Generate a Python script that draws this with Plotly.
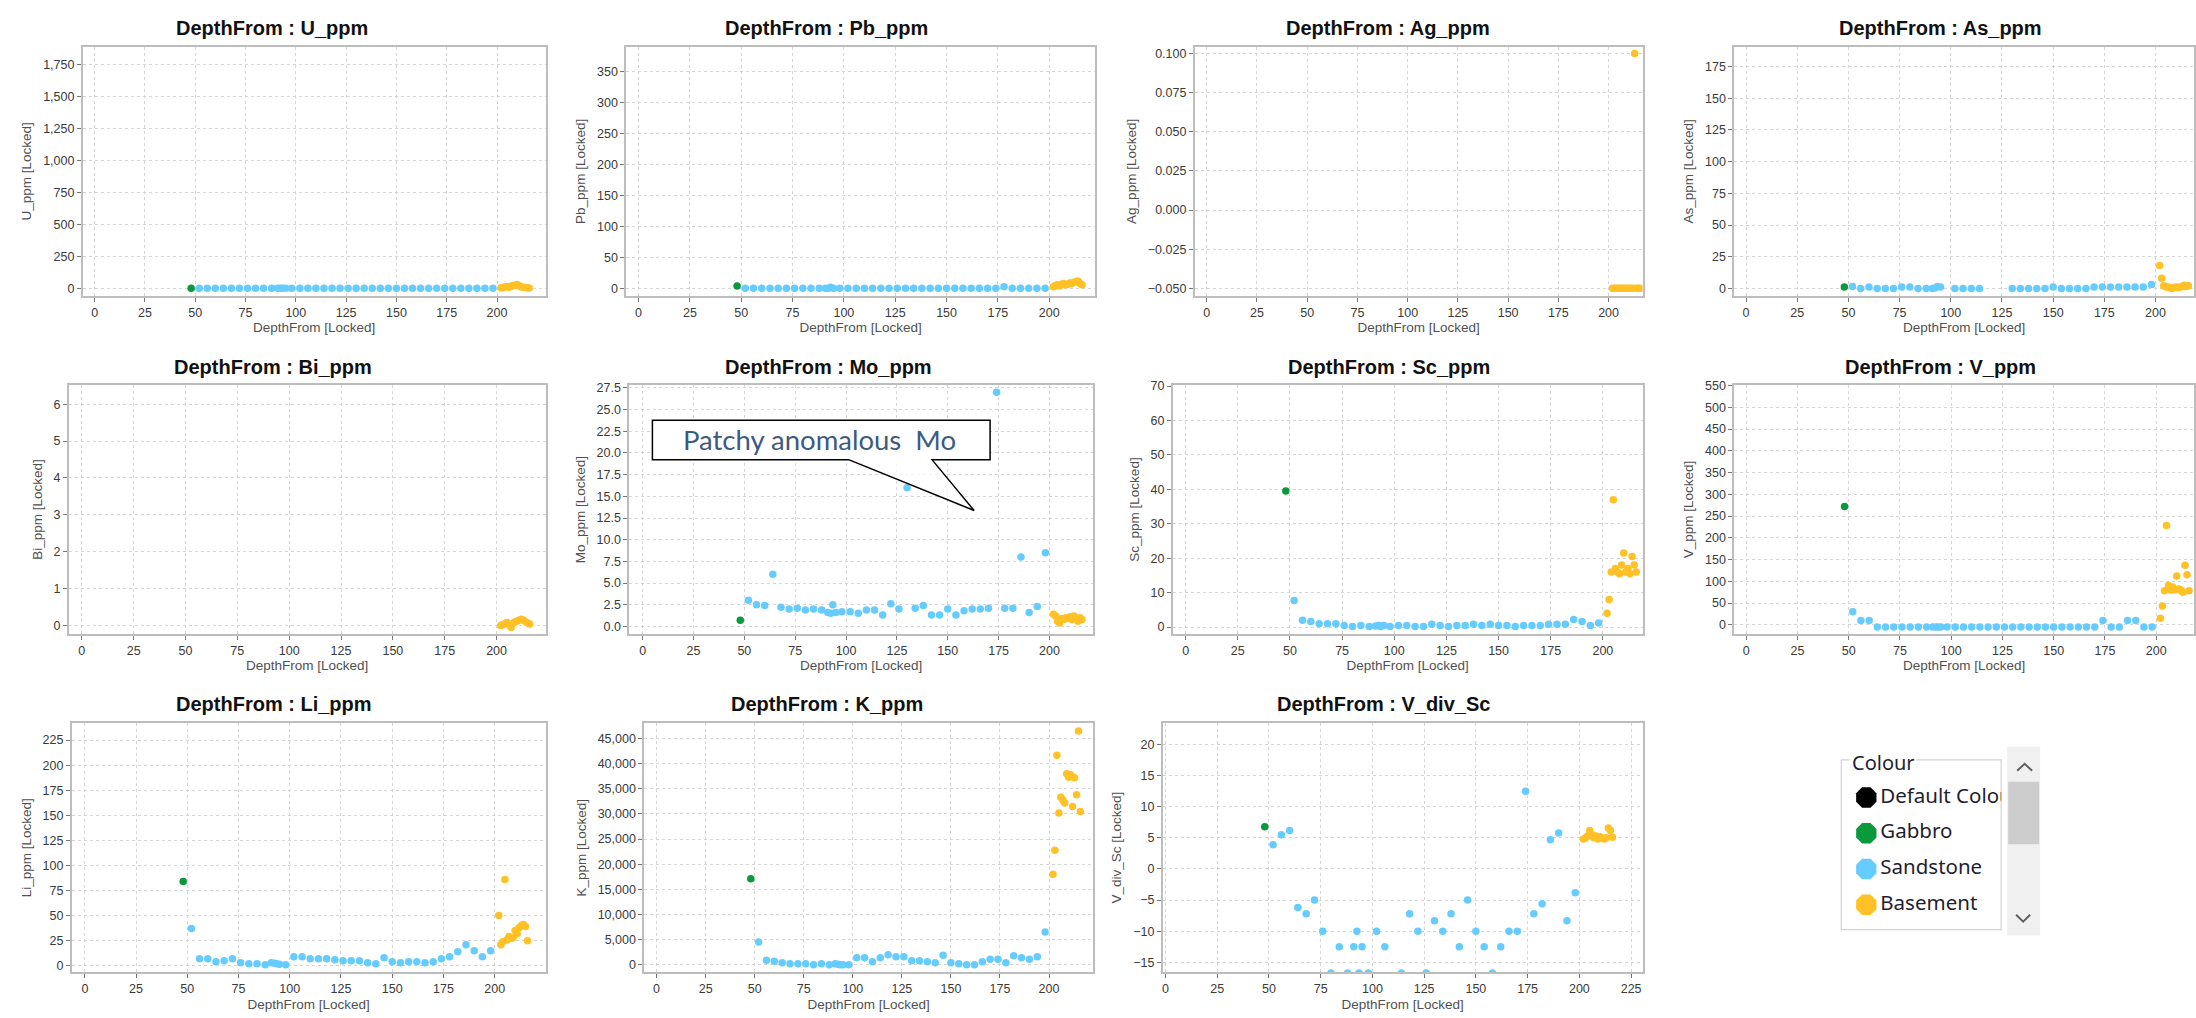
import plotly.graph_objects as go

W, H = 2196, 1018

# ---------------- data ----------------
depth_gabbro = [48]
depth_sandstone = [52, 56, 60, 64, 68, 72, 76, 80, 84, 88, 91, 92.5, 93.5, 95, 98,
                   102, 106, 110, 114, 118, 122, 126, 130, 134, 138, 142, 146, 150,
                   154, 158, 162, 166, 170, 174, 178, 182, 186, 190, 194, 198]
depth_basement = [202, 203, 204, 205, 206, 207, 208, 209, 210, 211, 212, 213, 214, 215, 216]

U_gabbro = [1]
U_sandstone = [2, 1, 2, 1, 1, 2, 1, 1, 2, 1, 2, 1, 2, 1, 1, 2, 1, 1, 2, 1,
               1, 2, 1, 2, 1, 1, 2, 1, 1, 2, 1, 1, 2, 1, 1, 2, 1, 1, 2, 2]
U_basement = [5, 8, 12, 15, 10, 18, 22, 25, 30, 20, 14, 10, 8, 5, 3]

Pb_gabbro = [4]
Pb_sandstone = [0.5, 0.4, 0.5, 0.4, 0.5, 0.4, 0.5, 0.4, 0.5, 0.4, 0.5, 0.6, 2.0, 0.5, 0.4,
                0.5, 0.4, 0.5, 0.4, 0.5, 0.4, 0.5, 0.4, 0.5, 0.4, 0.5, 0.4, 0.5, 0.4, 0.5,
                0.4, 0.5, 0.4, 0.5, 3.0, 0.4, 0.5, 0.4, 0.5, 0.4]
Pb_basement = [3, 5, 6, 4, 7, 8, 6, 7, 9, 8, 10, 11, 12, 8, 6]

Ag_basement = [-0.05, -0.05, -0.05, -0.05, -0.05, -0.05, -0.05, -0.05, -0.05, -0.05,
               -0.05, 0.1, -0.05, -0.05, -0.05]

As_gabbro = [1]
As_sandstone = [1.5, 0, 1, 0, 0, 0, 1, 1, 0, 0, 0, 0.5, 1.5, 1, None,
                0, 0, 0, 0, None, None, None, 0, 0, 0, 0, 0, 1, 0, 0,
                0, 0, 1, 1, 1, 1, 1, 1, 1, 3]
As_basement = [18, 8, 2, 1, 1, 0.5, 0, 0.5, 1, 0.5, 1, 1.5, 2.5, 1.5, 2]

Bi_basement = [0.0, 0.02, 0.05, 0.08, 0.03, -0.05, 0.06, 0.1, 0.12, 0.15, 0.17, 0.14, 0.1, 0.07, 0.04]

Mo_gabbro = [0.7]
Mo_sandstone = [3.0, 2.5, 2.4, 6.0, 2.2, 2.0, 2.1, 1.9, 2.0, 1.9, 1.6, 1.5, 2.5, 1.6, 1.7,
                1.7, 1.5, 1.9, 1.9, 1.3, 2.6, 2.0, 16.0, 2.1, 2.4, 1.3, 1.3, 2.0, 1.3, 1.8,
                2.0, 2.0, 2.1, 27.0, 2.1, 2.1, 8.0, 1.6, 2.3, 8.5]
Mo_basement = [1.4, 1.2, 0.6, 0.4, 0.9, 0.8, 1.0, 0.9, 1.1, 0.8, 1.2, 0.9, 0.6, 1.0, 0.8]

Sc_gabbro = [39.5]
Sc_sandstone = [7.7, 2.0, 1.6, 1.0, 1.0, 1.0, 0.5, 0.2, 0.5, 0.2, 0.3, 0.5, 0.2, 0.5, 0.2,
                0.5, 0.5, 0.2, 0.2, 0.8, 0.5, 0.2, 0.5, 0.5, 0.8, 0.5, 0.8, 0.5, 0.5, 0.2,
                0.5, 0.5, 0.5, 0.8, 0.8, 0.8, 2.2, 1.6, 0.5, 1.2]
Sc_basement = [4, 8, 16, 37, 17, 16, 15.5, 18, 21.5, 16, 17, 15.5, 20.5, 18, 16]

V_gabbro = [272]
V_sandstone = [30, 10, 10, -5, -5, -5, -5, -5, -5, -5, -5, -5, -5, -5, -5,
               -5, -5, -5, -5, -5, -5, -5, -5, -5, -5, -5, -5, -5, -5, -5,
               -5, -5, -5, 10, -5, -5, 10, 10, -5, -5]
V_basement = [15, 43, 78, 228, 90, 80, 87, 80, 112, 82, 80, 75, 137, 115, 78]

Li_gabbro = [84]
Li_sandstone = [37, 7, 7, 4, 5, 7, 3, 2, 2, 1, 3, 2.5, 2, 1.5, 1,
                9, 9, 7, 7, 7, 6, 5, 5, 5, 3, 2, 8, 4, 3, 4,
                4, 3, 4, 7, 9, 14, 21, 15, 9, 15]
Li_basement = [50, 21, 24, 86, 26, 29, 27, 28, 35, 32, 38, 40, 41, 39, 25]

K_gabbro = [17100]
K_sandstone = [4500, 900, 700, 400, 200, 200, 200, 0, 200, 0, 200, 100, 0, 0, 0,
               1400, 1400, 600, 1400, 2000, 1600, 1600, 800, 800, 600, 400, 1900, 400, 200, 0,
               0, 600, 1100, 1100, 400, 1800, 1400, 1100, 1600, 6500]
K_basement = [18000, 22800, 41700, 30200, 33300, 32800, 32200, 38000, 37300, 37800,
              31500, 37200, 33800, 46500, 30500]

VdivSc_gabbro = [6.8]
VdivSc_sandstone = [3.9, 5.5, 6.2, -6.2, -7.2, -5.0, -10.0, -16.7, -12.5, -16.7,
                    -12.5, -10.0, -16.7, -12.5, -16.7, -10.0, -12.5, -25.0, -16.7, -7.2,
                    -10.0, -16.7, -8.3, -10.0, -7.2, -12.5, -5.0, -10.0, -12.5, -16.7,
                    -12.5, -10.0, -10.0, 12.5, -7.2, -5.6, 4.7, 5.8, -8.3, -3.8]
VdivSc_basement = [4.8, 5.0, 5.3, 6.2, 5.5, 5.0, 5.3, 4.8, 5.2, 5.0, 4.8, 5.0, 6.6, 6.2, 5.1]

legend_labels = ["Default Colour", "Gabbro", "Sandstone", "Basement"]

# ---------------- styling ----------------
C_GAB = "#0a9a3c"
C_SAN = "#66ccff"
C_BAS = "#ffc125"
legend_colours = ["#000000", C_GAB, C_SAN, C_BAS]

FONT = "Liberation Sans, Arial, sans-serif"

panels = [
    dict(name="U_ppm", g=U_gabbro, s=U_sandstone, b=U_basement,
         box=(82, 41, 545, 292), xr=(-5.8, 224.1), yr=(-59, 1887), dt=250, fmt=",", tx=271),
    dict(name="Pb_ppm", g=Pb_gabbro, s=Pb_sandstone, b=Pb_basement,
         box=(626, 41, 1095, 292), xr=(-5.9, 222.3), yr=(-12, 390), dt=50, fmt="", tx=826),
    dict(name="Ag_ppm", g=None, s=None, b=Ag_basement,
         box=(1195, 41, 1643, 292), xr=(-5.9, 216.9), yr=(-0.0549, 0.1044), dt=0.025, fmt=".3f", tx=1388),
    dict(name="As_ppm", g=As_gabbro, s=As_sandstone, b=As_basement,
         box=(1735, 41, 2195, 292), xr=(-5.7, 218.8), yr=(-6, 190.7), dt=25, fmt="", tx=1941),
    dict(name="Bi_ppm", g=None, s=None, b=Bi_basement,
         box=(68, 382, 545, 632), xr=(-6.2, 223.6), yr=(-0.22, 6.51), dt=1, fmt="", tx=272),
    dict(name="Mo_ppm", g=Mo_gabbro, s=Mo_sandstone, b=Mo_basement,
         box=(629, 382, 1093, 632), xr=(-6.5, 221.4), yr=(-0.84, 27.8), dt=2.5, fmt=".1f", tx=828),
    dict(name="Sc_ppm", g=Sc_gabbro, s=Sc_sandstone, b=Sc_basement,
         box=(1173, 382, 1643, 632), xr=(-6.1, 219.0), yr=(-1.9, 70.2), dt=10, fmt="", tx=1389),
    dict(name="V_ppm", g=V_gabbro, s=V_sandstone, b=V_basement,
         box=(1735, 382, 2195, 632), xr=(-5.7, 218.4), yr=(-20.5, 550.5), dt=50, fmt="", tx=1941),
    dict(name="Li_ppm", g=Li_gabbro, s=Li_sandstone, b=Li_basement,
         box=(71, 722, 545, 973), xr=(-6.3, 224.8), yr=(-6.6, 242), dt=25, fmt="", tx=273),
    dict(name="K_ppm", g=K_gabbro, s=K_sandstone, b=K_basement,
         box=(644, 722, 1093, 973), xr=(-6.2, 222.4), yr=(-1511, 48090), dt=5000, fmt=",", tx=827),
    dict(name="V_div_Sc", g=VdivSc_gabbro, s=VdivSc_sandstone, b=VdivSc_basement,
         box=(1163, 722, 1643, 973), xr=(-1.2, 230.5), yr=(-16.6, 23.45), dt=5, fmt="", tx=1384),
]
row_title_y = {41: 22, 382: 363, 722: 703}

fig = go.Figure()
annotations = []
layout_axes = {}

for i, p in enumerate(panels, start=1):
    sx = "" if i == 1 else str(i)
    xref, yref = "x" + sx, "y" + sx
    l, t, r, b = p["box"]
    for depth, vals, col, nm in ((depth_sandstone, p["s"], C_SAN, "Sandstone"),
                                  (depth_basement, p["b"], C_BAS, "Basement"),
                                  (depth_gabbro, p["g"], C_GAB, "Gabbro")):
        if vals is None:
            continue
        fig.add_trace(go.Scatter(x=depth, y=vals, mode="markers", name=nm,
                                 xaxis=xref, yaxis=yref, showlegend=False,
                                 marker=dict(size=7.5, color=col, line=dict(width=0))))
    common = dict(showline=True, linecolor="#bdbdbd", linewidth=2, mirror=True,
                  showgrid=True, gridcolor="#d6d6d6", griddash="dot", gridwidth=1,
                  zeroline=False, ticks="outside", ticklen=4, tickwidth=1, tickcolor="#777",
                  tickfont=dict(family=FONT, size=12.5, color="#3a3a3a"))
    layout_axes["xaxis" + sx] = dict(
        domain=[l / W, r / W], anchor=yref, range=list(p["xr"]), tick0=0, dtick=25,
        title=dict(text="DepthFrom [Locked]", standoff=4,
                   font=dict(family=FONT, size=13.5, color="#505050")),
        **common)
    layout_axes["yaxis" + sx] = dict(
        domain=[1 - b / H, 1 - t / H], anchor=xref, range=list(p["yr"]), tick0=0,
        dtick=p["dt"], tickformat=p["fmt"],
        title=dict(text=p["name"] + " [Locked]", standoff=8,
                   font=dict(family=FONT, size=13.5, color="#505050")),
        **common)
    annotations.append(dict(text="<b>DepthFrom : " + p["name"] + "</b>", x=p["tx"] / W,
                            y=1 - row_title_y[t] / H, xref="paper", yref="paper",
                            xanchor="center", yanchor="middle", showarrow=False,
                            font=dict(family=FONT, size=20, color="#111")))

# ---------------- legend (own hidden axis so long labels clip at the box) ----------------
LX0, LY0, LX1, LY1 = 1842, 759, 2002, 930
item_y_px = [797, 833, 869, 905]
leg_y = [1 - (yy - LY0) / (LY1 - LY0) for yy in item_y_px]
nl = len(panels) + 1
fig.add_trace(go.Scatter(x=[(1867 - LX0) / (LX1 - LX0)] * 4, y=leg_y, mode="markers",
                         xaxis="x%d" % nl, yaxis="y%d" % nl, showlegend=False, hoverinfo="skip",
                         marker=dict(symbol="octagon", size=22, color=legend_colours,
                                     line=dict(width=0))))
fig.add_trace(go.Scatter(x=[(1881 - LX0) / (LX1 - LX0)] * 4, y=leg_y, mode="text",
                         text=legend_labels, textposition="middle right", cliponaxis=True,
                         xaxis="x%d" % nl, yaxis="y%d" % nl, showlegend=False, hoverinfo="skip",
                         textfont=dict(family="Noto Sans, sans-serif", size=20.5, color="#1e1e30")))
layout_axes["xaxis%d" % nl] = dict(domain=[LX0 / W, LX1 / W], range=[0, 1], visible=False,
                                   anchor="y%d" % nl, fixedrange=True)
layout_axes["yaxis%d" % nl] = dict(domain=[1 - LY1 / H, 1 - LY0 / H], range=[0, 1], visible=False,
                                   anchor="x%d" % nl, fixedrange=True)
annotations.append(dict(text="Colour", x=1851 / W, y=1 - 762 / H, xref="paper", yref="paper",
                        xanchor="left", yanchor="middle", showarrow=False, bgcolor="white",
                        borderpad=1,
                        font=dict(family="Noto Sans, sans-serif", size=20, color="#1e1e30")))


def px(x):
    return x / W


def py(y):
    return 1 - y / H


shapes = []
# legend frame
shapes.append(dict(type="rect", xref="paper", yref="paper", x0=px(LX0), x1=px(LX1),
                   y0=py(LY1), y1=py(LY0), line=dict(color="#d2d2d2", width=1.2), layer="below"))
# scrollbar
shapes.append(dict(type="rect", xref="paper", yref="paper", x0=px(2008), x1=px(2041),
                   y0=py(936), y1=py(746), line=dict(width=0), fillcolor="#f0f0f0"))
shapes.append(dict(type="rect", xref="paper", yref="paper", x0=px(2009), x1=px(2040),
                   y0=py(844), y1=py(781), line=dict(width=0), fillcolor="#cdcdcd"))
shapes.append(dict(type="path", xref="paper", yref="paper",
                   path="M %f,%f L %f,%f L %f,%f" % (px(2018), py(770), px(2025.5), py(763), px(2033), py(770)),
                   line=dict(color="#606060", width=2)))
shapes.append(dict(type="path", xref="paper", yref="paper",
                   path="M %f,%f L %f,%f L %f,%f" % (px(2017), py(915), px(2024), py(922), px(2031), py(915)),
                   line=dict(color="#606060", width=2)))

# callout on Mo panel
BX0, BY0, BX1, BY1 = 652, 417, 990, 457
PL, PR, TIPX, TIPY = 849, 932, 974, 508
shapes.append(dict(type="rect", xref="paper", yref="paper", x0=px(BX0), x1=px(BX1),
                   y0=py(BY1), y1=py(BY0), line=dict(width=0), fillcolor="white"))
shapes.append(dict(type="path", xref="paper", yref="paper",
                   path="M %f,%f L %f,%f L %f,%f Z" % (px(PL), py(BY1 - 1), px(TIPX), py(TIPY), px(PR), py(BY1 - 1)),
                   line=dict(width=0), fillcolor="rgba(255,255,255,0.75)"))
shapes.append(dict(type="path", xref="paper", yref="paper",
                   path="M %f,%f L %f,%f L %f,%f L %f,%f L %f,%f L %f,%f L %f,%f L %f,%f" % (
                       px(PL), py(BY1), px(BX0), py(BY1), px(BX0), py(BY0), px(BX1), py(BY0),
                       px(BX1), py(BY1), px(PR), py(BY1), px(TIPX), py(TIPY), px(PL), py(BY1)),
                   line=dict(color="#000000", width=1.5)))
annotations.append(dict(text="Patchy anomalous\u00a0 Mo", x=px(819), y=py(437), xref="paper", yref="paper",
                        xanchor="center", yanchor="middle", showarrow=False,
                        font=dict(family="Lato, Noto Sans, sans-serif", size=27.5, color="#3d5a80")))

fig.update_layout(width=W, height=H, margin=dict(l=0, r=0, t=0, b=0),
                  paper_bgcolor="white", plot_bgcolor="white", showlegend=False,
                  annotations=annotations, shapes=shapes, **layout_axes)

# remove the browser's default 8px page margin so the figure fills the window exactly
fig.write_html("out.html",
               config={"displayModeBar": False},
               post_script="document.body.style.margin='0px';"
                           "document.documentElement.style.overflow='hidden';")
